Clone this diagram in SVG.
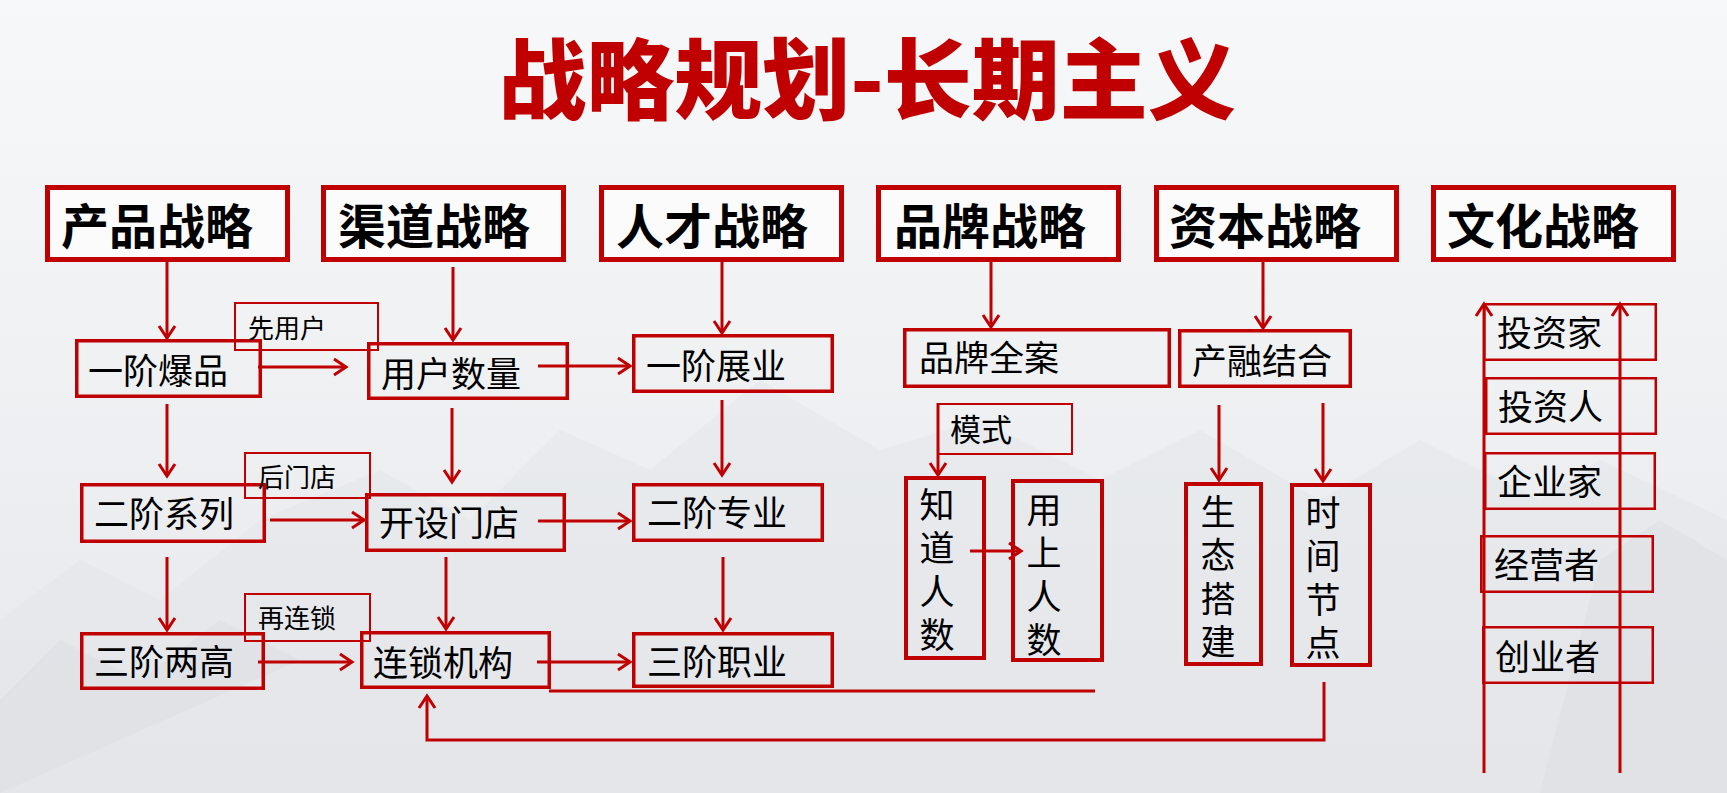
<svg xmlns="http://www.w3.org/2000/svg" width="1727" height="793" viewBox="0 0 1727 793">
<defs>
<linearGradient id="bg" x1="0" y1="0" x2="0" y2="1">
<stop offset="0" stop-color="#f7f8fa"/>
<stop offset="0.45" stop-color="#eff1f3"/>
<stop offset="1" stop-color="#e5e7ea"/>
</linearGradient>
<marker id="ah" markerUnits="userSpaceOnUse" markerWidth="20" markerHeight="20" viewBox="0 0 20 20" refX="14" refY="10" orient="auto">
<path d="M2,2 L14,10 L2,18" fill="none" stroke="#C00000" stroke-width="3"/>
</marker>
<style>
.hdr rect{fill:#fbfbfc;stroke:#C00000;stroke-width:5}
.hdr text{font-family:"Noto Sans CJK SC","Noto Sans",sans-serif;font-weight:bold;font-size:48px;fill:#000}
.n rect{fill:none;stroke:#C00000;stroke-width:3.5}
.n text{font-family:"Noto Sans CJK SC","Noto Sans",sans-serif;font-size:35px;fill:#000}
.v rect{fill:none;stroke:#C00000;stroke-width:4}
.v text{font-family:"Noto Sans CJK SC","Noto Sans",sans-serif;font-size:35px;fill:#000;writing-mode:tb;letter-spacing:8.4px}
.lb rect{fill:none;stroke:#C00000;stroke-width:2}
.lb text{font-family:"Noto Sans CJK SC","Noto Sans",sans-serif;font-size:26px;fill:#000}
.c rect{fill:none;stroke:#C00000;stroke-width:2.5}
.c text{font-family:"Noto Sans CJK SC","Noto Sans",sans-serif;font-size:35px;fill:#000}
.cn line,.cn polyline{stroke:#C00000;stroke-width:3;fill:none}
.title{font-family:"Noto Sans CJK SC","Noto Sans",sans-serif;font-weight:900;font-size:88px;fill:#C00000;text-anchor:middle}
</style>
</defs>
<rect x="0" y="0" width="1727" height="793" fill="url(#bg)"/>
<g fill="#e3e5e9" opacity="0.45">
<polygon points="0,620 80,560 160,600 260,520 380,470 470,520 560,430 650,470 760,380 880,450 980,420 1100,480 1200,430 1320,500 1420,440 1540,500 1600,460 1727,520 1727,793 0,793"/>
</g>
<g fill="#d9dce0" opacity="0.4">
<polygon points="0,700 60,640 140,680 220,620 300,660 0,793"/>
<polygon points="1540,793 1600,560 1660,520 1727,560 1727,793"/>
</g>

<text class="title" x="867" y="112">战略规划-长期主义</text>

<g id="h1" class="hdr"><rect x="47.5" y="187.5" width="240" height="72"/><text x="61" y="244">产品战略</text></g>
<g id="h2" class="hdr"><rect x="323.5" y="187.5" width="240" height="72"/><text x="338" y="244">渠道战略</text></g>
<g id="h3" class="hdr"><rect x="601.5" y="187.5" width="240" height="72"/><text x="616" y="244">人才战略</text></g>
<g id="h4" class="hdr"><rect x="878.5" y="187.5" width="240" height="72"/><text x="894" y="244">品牌战略</text></g>
<g id="h5" class="hdr"><rect x="1156.5" y="187.5" width="240" height="72"/><text x="1169" y="244">资本战略</text></g>
<g id="h6" class="hdr"><rect x="1433.5" y="187.5" width="240" height="72"/><text x="1447" y="244">文化战略</text></g>

<g id="n-yjbp" class="n"><rect x="76.75" y="340.75" width="183.5" height="55.5"/><text x="88" y="384">一阶爆品</text></g>
<g id="n-yhsl" class="n"><rect x="368.75" y="343.75" width="198.5" height="54.5"/><text x="381" y="387">用户数量</text></g>
<g id="n-yjzy" class="n"><rect x="633.75" y="335.75" width="198.5" height="55.5"/><text x="646" y="379">一阶展业</text></g>
<g id="n-ppqa" class="n"><rect x="904.75" y="329.75" width="264.5" height="56.5"/><text x="919" y="371">品牌全案</text></g>
<g id="n-crjh" class="n"><rect x="1179.75" y="330.75" width="170.5" height="55.5"/><text x="1192" y="374">产融结合</text></g>
<g id="n-ejxl" class="n"><rect x="81.75" y="484.75" width="182.5" height="56.5"/><text x="94" y="527">二阶系列</text></g>
<g id="n-ksmd" class="n"><rect x="366.75" y="494.75" width="197.5" height="55.5"/><text x="379" y="536">开设门店</text></g>
<g id="n-ejzy" class="n"><rect x="633.75" y="484.75" width="188.5" height="55.5"/><text x="647" y="526">二阶专业</text></g>
<g id="n-sjlg" class="n"><rect x="81.75" y="633.75" width="181.5" height="54.5"/><text x="94" y="675">三阶两高</text></g>
<g id="n-lsjg" class="n"><rect x="361.75" y="632.75" width="187.5" height="54.5"/><text x="373" y="676">连锁机构</text></g>
<g id="n-sjzy" class="n"><rect x="633.75" y="633.75" width="198.5" height="52.5"/><text x="647" y="675">三阶职业</text></g>

<g id="l-xyh" class="lb"><rect x="235" y="303" width="143" height="47"/><text x="248" y="338">先用户</text></g>
<g id="l-hmd" class="lb"><rect x="245" y="453" width="125" height="45"/><text x="258" y="487">后门店</text></g>
<g id="l-zls" class="lb"><rect x="245" y="594" width="125" height="47"/><text x="258" y="628">再连锁</text></g>
<g id="l-ms" class="lb"><rect x="938" y="404" width="134" height="50"/><text x="950" y="441" style="font-size:31px">模式</text></g>

<g id="v-zdrs" class="v"><rect x="906" y="478" width="78" height="180"/><text x="937" y="487">知道人数</text></g>
<g id="v-ysrs" class="v"><rect x="1013" y="481" width="89" height="179"/><text x="1044" y="492">用上人数</text></g>
<g id="v-stdj" class="v"><rect x="1186" y="484" width="75" height="180"/><text x="1218" y="494">生态搭建</text></g>
<g id="v-sjjd" class="v"><rect x="1292" y="485" width="78" height="180"/><text x="1323" y="495">时间节点</text></g>

<g id="c-tzj" class="c"><rect x="1484.25" y="304.25" width="171.5" height="55.5"/><text x="1497" y="346">投资家</text></g>
<g id="c-tzr" class="c"><rect x="1486.25" y="378.25" width="169.5" height="55.5"/><text x="1498" y="420">投资人</text></g>
<g id="c-qyj" class="c"><rect x="1485.25" y="453.25" width="169.5" height="55.5"/><text x="1497" y="495">企业家</text></g>
<g id="c-jyz" class="c"><rect x="1481.25" y="536.25" width="171.5" height="55.5"/><text x="1494" y="578">经营者</text></g>
<g id="c-cyz" class="c"><rect x="1483.25" y="627.25" width="169.5" height="55.5"/><text x="1495" y="670">创业者</text></g>

<g id="connectors" class="cn">
<line x1="167" y1="262" x2="167" y2="338" marker-end="url(#ah)"/>
<line x1="167" y1="404" x2="167" y2="476" marker-end="url(#ah)"/>
<line x1="167" y1="557" x2="167" y2="630" marker-end="url(#ah)"/>
<line x1="453" y1="267" x2="453" y2="340" marker-end="url(#ah)"/>
<line x1="452" y1="408" x2="452" y2="482" marker-end="url(#ah)"/>
<line x1="446" y1="557" x2="446" y2="629" marker-end="url(#ah)"/>
<line x1="722" y1="262" x2="722" y2="333" marker-end="url(#ah)"/>
<line x1="722" y1="400" x2="722" y2="475" marker-end="url(#ah)"/>
<line x1="723" y1="557" x2="723" y2="630" marker-end="url(#ah)"/>
<line x1="991" y1="262" x2="991" y2="327" marker-end="url(#ah)"/>
<line x1="938" y1="403" x2="938" y2="475" marker-end="url(#ah)"/>
<line x1="1263" y1="262" x2="1263" y2="328" marker-end="url(#ah)"/>
<line x1="1219" y1="405" x2="1219" y2="480" marker-end="url(#ah)"/>
<line x1="1323" y1="403" x2="1323" y2="481" marker-end="url(#ah)"/>
<line x1="258" y1="367" x2="346" y2="367" marker-end="url(#ah)"/>
<line x1="270" y1="520" x2="364" y2="520" marker-end="url(#ah)"/>
<line x1="258" y1="662" x2="352" y2="662" marker-end="url(#ah)"/>
<line x1="538" y1="366" x2="630" y2="366" marker-end="url(#ah)"/>
<line x1="538" y1="521" x2="630" y2="521" marker-end="url(#ah)"/>
<line x1="537" y1="662" x2="630" y2="662" marker-end="url(#ah)"/>
<line x1="970" y1="551" x2="1021" y2="551" marker-end="url(#ah)"/>
<line x1="549" y1="691" x2="1095" y2="691"/>
<polyline points="1324,682 1324,740 427,740 427,696" marker-end="url(#ah)"/>
<line x1="1484" y1="773" x2="1484" y2="304" marker-end="url(#ah)"/>
<line x1="1620" y1="773" x2="1620" y2="304" marker-end="url(#ah)"/>
</g>
</svg>
